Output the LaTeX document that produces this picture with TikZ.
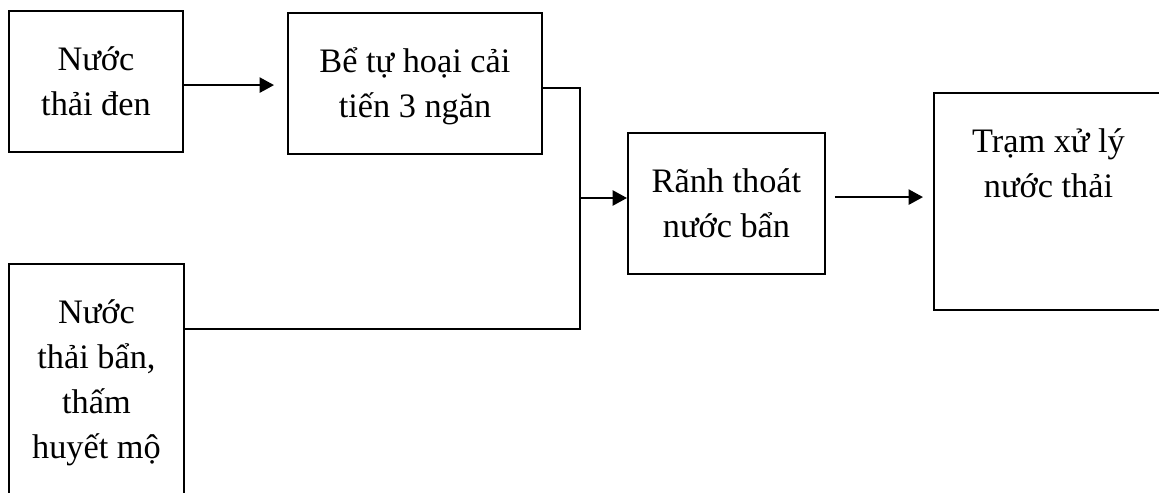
\documentclass[tikz,border=0pt]{standalone}
\usepackage{fontspec}
\setmainfont{Liberation Serif}
\usetikzlibrary{arrows.meta}
\tikzstyle{arrow} = [-{Triangle[length=0.36cm,width=0.38cm]},line width=1.4pt]
\tikzstyle{wire} = [line width=1.4pt]
\tikzstyle{stage} = [draw,line width=1.4pt,inner sep=0pt,anchor=north west]
\newcommand{\stagetext}[3]{\parbox[c][#2][t]{#1}{\centering\rule{0pt}{1.5cm}#3}}

\begin{document}
\begin{tikzpicture}
        \fontsize{24.4}{32}\selectfont
        \useasboundingbox (0,0) rectangle (28.975,-12.325);
        \clip (0,0) rectangle (28.975,-12.325);
        \node[stage] at (0.2,-0.25) (den) {\stagetext{4.35cm}{3.525cm}{Nước\\thải đen}};
        \node[stage] at (7.175,-0.3) (tuhoai) {\stagetext{6.35cm}{3.525cm}{Bể tự hoại cải\\tiến 3 ngăn}};
        \node[stage] at (0.2,-6.575) (ban) {\stagetext{4.375cm}{6.5cm}{Nước\\thải bẩn,\\thấm\\huyết mộ}};
        \node[stage] at (15.675,-3.3) (ranh) {\stagetext{4.925cm}{3.525cm}{Rãnh thoát\\nước bẩn}};
        \node[stage] at (23.325,-2.3) (tram) {\stagetext{5.725cm}{5.425cm}{Trạm xử lý\\nước thải}};
        \coordinate (j) at (14.5,-4.95);
        \coordinate (k) at (14.5,-8.225);

        \draw[arrow, shorten >=0.325cm] ([yshift=-0.09cm]den.east) -- ([yshift=-0.09cm]den.east -| tuhoai.west);
        \draw[wire] ([yshift=-0.11cm]tuhoai.east) -| (k) -- (k -| ban.east);
        \draw[arrow] (j) -- (j -| ranh.west);
        \draw[arrow, shorten <=0.225cm, shorten >=0.25cm] ([yshift=0.16cm]ranh.east) -- ([yshift=0.16cm]ranh.east -| tram.west);
\end{tikzpicture}
\end{document}
